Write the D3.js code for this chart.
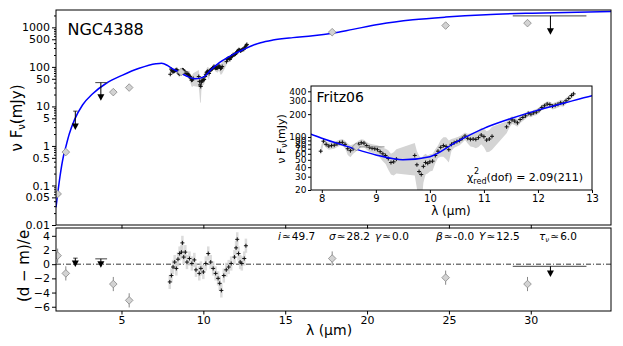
<!DOCTYPE html>
<html>
<head>
<meta charset="utf-8">
<script src="https://cdn.jsdelivr.net/npm/d3@7"></script>
<style>
  body { margin: 0; background: #fff; }
  text { font-family: "DejaVu Sans", sans-serif; fill: #000; }
</style>
</head>
<body>
<svg id="chart"></svg>
<script>
// --- data ---
// model SED (blue line)
const modelLam  = [1.0, 1.08, 1.24, 1.45, 1.6, 1.81, 2.12, 2.63, 3.24, 4.05, 5.07, 6.08, 7.1, 7.45, 7.8, 8.0, 8.5, 9.0, 9.5, 10.0, 10.5, 11.0, 11.5, 12.0, 12.5, 13.0, 13.5, 14.25, 15.47, 16.69, 17.9, 19.13, 20.76, 22.8, 24.8, 27.26, 30.1, 35.0];
const modelFlux = [0.028, 0.052, 0.165, 0.54, 0.95, 2.0, 4.5, 11, 21, 38, 62, 92, 120, 124, 109, 96, 74, 58, 50, 55, 87, 130, 175, 226, 282, 349, 410, 477, 550, 610, 710, 890, 1200, 1550, 1820, 2090, 2290, 2520];

// spectrum (Fritz06)
const specLam  = [7.98, 8.03, 8.08, 8.13, 8.18, 8.23, 8.28, 8.33, 8.38, 8.43, 8.48, 8.53, 8.58, 8.63, 8.68, 8.73, 8.78, 8.83, 8.88, 8.93, 8.98, 9.03, 9.08, 9.13, 9.18, 9.23, 9.28, 9.33, 9.38, 9.72, 9.76, 9.8, 9.84, 9.88, 9.92, 9.96, 10.0, 10.05, 10.1, 10.15, 10.2, 10.25, 10.3, 10.35, 10.4, 10.45, 10.5, 10.55, 10.6, 10.65, 10.7, 10.75, 10.8, 10.85, 10.9, 10.95, 11.0, 11.05, 11.1, 11.15, 11.42, 11.47, 11.52, 11.57, 11.62, 11.67, 11.72, 11.77, 11.82, 11.87, 11.92, 11.97, 12.02, 12.07, 12.12, 12.17, 12.22, 12.27, 12.32, 12.37, 12.42, 12.47, 12.52, 12.57, 12.62, 12.66];
const specFlux = [65, 88, 80, 76, 77, 78, 81, 84, 85, 80, 70, 66, 70, 74, 80, 84, 83, 77, 73, 71, 70, 68, 64, 60, 57, 52, 46, 47, 51, 57, 43, 35, 32, 41, 46, 45, 47, 48, 57, 65, 73, 77, 75, 68, 80, 84, 87, 90, 96, 103, 96, 93, 94, 93, 98, 106, 101, 91, 94, 102, 136, 154, 168, 162, 154, 170, 181, 190, 204, 200, 208, 213, 225, 245, 258, 272, 268, 255, 262, 270, 282, 278, 300, 322, 352, 370];
const specErr  = [8, 9, 8, 8, 8, 8, 8, 8, 9, 9, 12, 12, 10, 10, 9, 9, 9, 9, 9, 9, 9, 10, 11, 12, 13, 15, 14, 16, 18, 26, 22, 22, 20, 16, 14, 12, 12, 12, 12, 12, 18, 22, 24, 22, 14, 12, 12, 12, 12, 12, 14, 18, 20, 22, 24, 26, 28, 28, 30, 34, 24, 22, 20, 18, 18, 18, 18, 18, 18, 18, 18, 20, 20, 22, 22, 24, 24, 24, 26, 26, 28, 28, 28, 28, 30, 30];

// spectrum residuals (d - m)/e
const resLam = [7.95, 8.05, 8.15, 8.25, 8.35, 8.45, 8.55, 8.66, 8.72, 8.8, 8.9, 9.0, 9.15, 9.3, 9.45, 9.55, 9.75, 9.85, 10.0, 10.15, 10.3, 10.45, 10.6, 10.75, 10.9, 11.0, 11.1, 11.25, 11.4, 11.55, 11.7, 11.9, 12.0, 12.07, 12.15, 12.25, 12.35, 12.5, 12.6];
const resVal = [-2.5, -1.6, -0.4, 0.3, -0.6, 0.7, 1.5, 1.7, 3.0, 1.0, 1.7, 0.3, 0.8, 0.1, 0.6, -0.8, -1.3, -0.6, -1.1, 0.1, 1.5, 0.3, -0.6, -1.3, -2.0, -2.7, -3.7, -1.6, -0.8, -0.4, 0.1, 1.0, 2.3, 3.5, 1.5, 0.3, 0.1, 0.8, 2.6];

// photometry (grey diamonds)
const photLam  = [1.1, 1.6, 4.5, 5.47, 8.64, 17.87, 24.8, 29.8];
const photFlux = [0.061, 0.70, 23, 30, 74, 755, 1110, 1280];
const photErr  = [0.006, 0.07, 3, 3, 4, 50, 80, 90];
const photXlo  = [null, null, null, null, 8.58, null, null, null];
const photXhi  = [null, null, null, null, 9.16, null, null, null];
const photRes  = [1.2, -1.3, -2.8, -5.1, null, 0.8, -1.9, -2.8];

// upper limits
const ulLam    = [2.18, 3.74, 31.2];
const ulFlux   = [3.1, 17, 800];
const ulCap    = [7.6, 40, 1950];
const ulXlo    = [2.05, 3.4, 28.9];
const ulXhi    = [2.32, 4.12, 33.4];
const ulRes    = [0.1, 0.0, -1.3];
const ulResCap = [0.85, 0.75, -0.3];

const mainYTicks  = [0.01, 0.05, 0.1, 0.5, 1, 5, 10, 50, 100, 500, 1000];
const resYTicks   = [-6, -4, -2, 0, 2, 4];
const xTicks      = [5, 10, 15, 20, 25, 30];
const insetXTicks = [8, 9, 10, 11, 12, 13];
const insetYTicks = [20, 30, 40, 50, 60, 70, 80, 90, 100, 200, 300, 400];

const params = [
  {name: "i", val: "49.7"}, {name: "σ", val: "28.2"}, {name: "γ", val: "0.0"},
  {name: "β", val: "-0.0"}, {name: "Y", val: "12.5"}, {name: "τ", sub: "ν", val: "6.0"}
];

// --- layout ---
const width = 623, height = 346;
const L = 56, R = 611;
const topT = 10, topB = 225, botT = 228, botB = 311;
const inset = {l: 311, r: 592, t: 86, b: 190};

const svg = d3.select("#chart")
  .attr("width", width)
  .attr("height", height)
  .attr("viewBox", [0, 0, width, height]);

const x = d3.scaleLinear().domain([1, 34.9]).range([L, R]);
const y = d3.scaleLog().domain([0.01, 2750]).range([topB, topT]);
const yr = d3.scaleLinear().domain([-6.6, 5.1]).range([botB, botT]);
const xi = d3.scaleLinear().domain([7.8, 13]).range([inset.l, inset.r]);
const yi = d3.scaleLog().domain([20, 470]).range([inset.b, inset.t]);

const spec = specLam.map((l, i) => ({l, f: specFlux[i], e: specErr[i]}));
const model = modelLam.map((l, i) => ({l, f: modelFlux[i]}));
const res = resLam.map((l, i) => ({l, r: resVal[i]}));
const phot = photLam.map((l, i) => ({l, f: photFlux[i], e: photErr[i], xlo: photXlo[i], xhi: photXhi[i], r: photRes[i]}));
const uls = ulLam.map((l, i) => ({l, f: ulFlux[i], cap: ulCap[i], xlo: ulXlo[i], xhi: ulXhi[i], r: ulRes[i], rcap: ulResCap[i]}));

const defs = svg.append("defs");
function clip(id, x0, y0, w, h) {
  defs.append("clipPath").attr("id", id).append("rect")
    .attr("x", x0).attr("y", y0).attr("width", w).attr("height", h);
}
clip("cTop", L, topT, R - L, topB - topT);
clip("cBot", L, botT, R - L, botB - botT);
clip("cIn", inset.l, inset.t, inset.r - inset.l, inset.b - inset.t);

const diamond = s => `M0,${-s}L${s},0L0,${s}L${-s},0Z`;
const tri = "M-3.5,-3L3.5,-3L0,3.5Z";
const plus = "M-2,0H2M0,-2V2";

// draws spectrum band, points, model etc. into a panel
function drawSED(g, xs, ys, opts) {
  g.append("path")
    .datum(spec)
    .attr("fill", "#d4d4d4")
    .attr("d", d3.area()
      .x(d => xs(d.l))
      .y0(d => ys(Math.max(d.f - d.e, 1e-3)))
      .y1(d => ys(d.f + d.e)));

  g.selectAll(".sp").data(spec).join("path")
    .attr("transform", d => `translate(${xs(d.l)},${ys(d.f)})`)
    .attr("d", plus)
    .attr("stroke", "#111").attr("stroke-width", 1).attr("fill", "none");

  g.append("path")
    .datum(model)
    .attr("fill", "none")
    .attr("stroke", "#0000ff")
    .attr("stroke-width", 1.5)
    .attr("d", d3.line().x(d => xs(d.l)).y(d => ys(d.f)).curve(d3.curveMonotoneX));

  // photometry
  const pg = g.append("g");
  phot.forEach(d => {
    pg.append("line")
      .attr("x1", xs(d.l)).attr("x2", xs(d.l))
      .attr("y1", ys(d.f - d.e)).attr("y2", ys(d.f + d.e))
      .attr("stroke", "#888").attr("stroke-width", 1);
    if (d.xlo != null) {
      pg.append("line")
        .attr("x1", xs(d.xlo)).attr("x2", xs(d.xhi))
        .attr("y1", ys(d.f)).attr("y2", ys(d.f))
        .attr("stroke", "#888").attr("stroke-width", 1);
    }
    pg.append("path")
      .attr("transform", `translate(${xs(d.l)},${ys(d.f)})`)
      .attr("d", diamond(opts.ds))
      .attr("fill", "#d3d3d3").attr("stroke", "#888").attr("stroke-width", 0.8);
  });

  if (opts.limits) {
    uls.forEach(d => {
      pg.append("line")
        .attr("x1", xs(d.xlo)).attr("x2", xs(d.xhi))
        .attr("y1", ys(d.cap)).attr("y2", ys(d.cap))
        .attr("stroke", "#444").attr("stroke-width", 1);
      pg.append("line")
        .attr("x1", xs(d.l)).attr("x2", xs(d.l))
        .attr("y1", ys(d.cap)).attr("y2", ys(d.f))
        .attr("stroke", "#000").attr("stroke-width", 1);
      pg.append("path")
        .attr("transform", `translate(${xs(d.l)},${ys(d.f)})`)
        .attr("d", tri).attr("fill", "#000");
    });
  }
}

// ---------- top panel ----------
const gTop = svg.append("g").attr("clip-path", "url(#cTop)");
drawSED(gTop, x, y, {ds: 3.8, limits: true});

svg.append("rect")
  .attr("x", L).attr("y", topT).attr("width", R - L).attr("height", topB - topT)
  .attr("fill", "none").attr("stroke", "#000").attr("stroke-width", 1);

// y axis (log) with minor ticks
const minor = [];
for (let e = -2; e <= 3; e++) for (let m = 1; m < 10; m++) {
  const v = m * Math.pow(10, e);
  if (v <= 2750 && !mainYTicks.includes(+v.toPrecision(3))) minor.push(v);
}
svg.append("g")
  .attr("transform", `translate(${L},0)`)
  .call(d3.axisLeft(y).tickValues(minor).tickSize(2).tickFormat(""))
  .call(g => g.select(".domain").remove());
svg.append("g")
  .attr("transform", `translate(${L},0)`)
  .call(d3.axisLeft(y).tickValues(mainYTicks).tickSize(4).tickPadding(2)
    .tickFormat(d => d3.format("~g")(d)))
  .call(g => g.select(".domain").remove())
  .call(g => g.selectAll("text").attr("font-size", 11).attr("font-family", "DejaVu Sans"));

svg.append("g")
  .attr("transform", `translate(0,${topB})`)
  .call(d3.axisBottom(x).tickValues(xTicks).tickSize(3.5).tickFormat(""))
  .call(g => g.select(".domain").remove());

svg.append("text")
  .attr("x", 67.5).attr("y", 35)
  .attr("font-size", 16)
  .text("NGC4388");

const yl = svg.append("text")
  .attr("transform", "translate(22,118) rotate(-90)")
  .attr("text-anchor", "middle")
  .attr("font-size", 15);
yl.append("tspan").text("ν F");
yl.append("tspan").attr("font-size", 10).attr("dy", 3).text("ν");
yl.append("tspan").attr("dy", -3).text("(mJy)");

// ---------- inset ----------
svg.append("rect")
  .attr("x", inset.l).attr("y", inset.t)
  .attr("width", inset.r - inset.l).attr("height", inset.b - inset.t)
  .attr("fill", "#fff");
const gIn = svg.append("g").attr("clip-path", "url(#cIn)");
drawSED(gIn, xi, yi, {ds: 4, limits: false});
svg.append("rect")
  .attr("x", inset.l).attr("y", inset.t)
  .attr("width", inset.r - inset.l).attr("height", inset.b - inset.t)
  .attr("fill", "none").attr("stroke", "#000").attr("stroke-width", 1);

svg.append("g")
  .attr("transform", `translate(0,${inset.b})`)
  .call(d3.axisBottom(xi).tickValues(insetXTicks).tickSize(3).tickPadding(2).tickFormat(d3.format("d")))
  .call(g => g.select(".domain").remove())
  .call(g => g.selectAll("text").attr("font-size", 10).attr("font-family", "DejaVu Sans"));
svg.append("g")
  .attr("transform", `translate(${inset.l},0)`)
  .call(d3.axisLeft(yi).tickValues(insetYTicks).tickSize(3).tickPadding(1.5).tickFormat(d3.format("d")))
  .call(g => g.select(".domain").remove())
  .call(g => g.selectAll("text").attr("font-size", 9).attr("font-family", "DejaVu Sans"));

svg.append("text")
  .attr("x", 316.5).attr("y", 102)
  .attr("font-size", 14)
  .text("Fritz06");

const chi = svg.append("text")
  .attr("x", 467).attr("y", 181)
  .attr("font-size", 11);
chi.append("tspan").text("χ");
chi.append("tspan").attr("font-size", 8).attr("dy", 3).text("red");
chi.append("tspan").attr("dy", -3).text("(dof) = 2.09(211)");
svg.append("text")
  .attr("x", 474).attr("y", 174)
  .attr("font-size", 8)
  .text("2");

svg.append("text")
  .attr("x", 451).attr("y", 215)
  .attr("text-anchor", "middle")
  .attr("font-size", 12)
  .text("λ (μm)");

const yli = svg.append("text")
  .attr("transform", "translate(285,139) rotate(-90)")
  .attr("text-anchor", "middle")
  .attr("font-size", 11);
yli.append("tspan").text("ν F");
yli.append("tspan").attr("font-size", 8).attr("dy", 2).text("ν");
yli.append("tspan").attr("dy", -2).text("(mJy)");

// ---------- residual panel ----------
const gBot = svg.append("g").attr("clip-path", "url(#cBot)");

gBot.append("line")
  .attr("x1", L).attr("x2", R)
  .attr("y1", yr(0)).attr("y2", yr(0))
  .attr("stroke", "#000").attr("stroke-width", 0.8)
  .attr("stroke-dasharray", "5,2,1,2");

gBot.selectAll(".rb").data(res).join("line")
  .attr("x1", d => x(d.l)).attr("x2", d => x(d.l))
  .attr("y1", d => yr(d.r - 1)).attr("y2", d => yr(d.r + 1))
  .attr("stroke", "#d4d4d4").attr("stroke-width", 2.5).attr("opacity", 0.8);
gBot.selectAll(".rp").data(res).join("path")
  .attr("transform", d => `translate(${x(d.l)},${yr(d.r)})`)
  .attr("d", plus)
  .attr("stroke", "#111").attr("stroke-width", 1).attr("fill", "none");

phot.filter(d => d.r != null).forEach(d => {
  gBot.append("line")
    .attr("x1", x(d.l)).attr("x2", x(d.l))
    .attr("y1", yr(d.r - 1)).attr("y2", yr(d.r + 1))
    .attr("stroke", "#888").attr("stroke-width", 1);
  gBot.append("path")
    .attr("transform", `translate(${x(d.l)},${yr(d.r)})`)
    .attr("d", diamond(3.8))
    .attr("fill", "#d3d3d3").attr("stroke", "#888").attr("stroke-width", 0.8);
});
uls.forEach(d => {
  gBot.append("line")
    .attr("x1", x(d.xlo)).attr("x2", x(d.xhi))
    .attr("y1", yr(d.rcap)).attr("y2", yr(d.rcap))
    .attr("stroke", "#444").attr("stroke-width", 1);
  gBot.append("line")
    .attr("x1", x(d.l)).attr("x2", x(d.l))
    .attr("y1", yr(d.rcap)).attr("y2", yr(d.r))
    .attr("stroke", "#000").attr("stroke-width", 1);
  gBot.append("path")
    .attr("transform", `translate(${x(d.l)},${yr(d.r)})`)
    .attr("d", tri).attr("fill", "#000");
});

svg.append("rect")
  .attr("x", L).attr("y", botT).attr("width", R - L).attr("height", botB - botT)
  .attr("fill", "none").attr("stroke", "#000").attr("stroke-width", 1);

svg.append("g")
  .attr("transform", `translate(${L},0)`)
  .call(d3.axisLeft(yr).tickValues(resYTicks).tickSize(4).tickPadding(2)
    .tickFormat(d => d < 0 ? "\u2212" + Math.abs(d) : d))
  .call(g => g.select(".domain").remove())
  .call(g => g.selectAll("text").attr("font-size", 11).attr("font-family", "DejaVu Sans"));

svg.append("g")
  .attr("transform", `translate(0,${botB})`)
  .call(d3.axisBottom(x).tickValues(xTicks).tickSize(3.5).tickPadding(2))
  .call(g => g.select(".domain").remove())
  .call(g => g.selectAll("text").attr("font-size", 11).attr("font-family", "DejaVu Sans"));

svg.append("text")
  .attr("x", 329).attr("y", 335)
  .attr("text-anchor", "middle")
  .attr("font-size", 14)
  .text("λ (μm)");

svg.append("text")
  .attr("transform", "translate(29,266) rotate(-90)")
  .attr("text-anchor", "middle")
  .attr("font-size", 15)
  .text("(d − m)/e");

// fit parameters
const paramX = [278, 329, 375, 436, 479, 539];
params.forEach((p, i) => {
  const t = svg.append("text")
    .attr("x", paramX[i]).attr("y", 240)
    .attr("font-size", 10.5);
  t.append("tspan").attr("font-style", "italic").text(p.name);
  if (p.sub) t.append("tspan").attr("font-size", 7).attr("dy", 2).attr("font-style", "italic").text(p.sub);
  t.append("tspan").attr("dy", p.sub ? -2 : 0).text("\u200a≃\u200a" + p.val);
});
</script>
</body>
</html>
